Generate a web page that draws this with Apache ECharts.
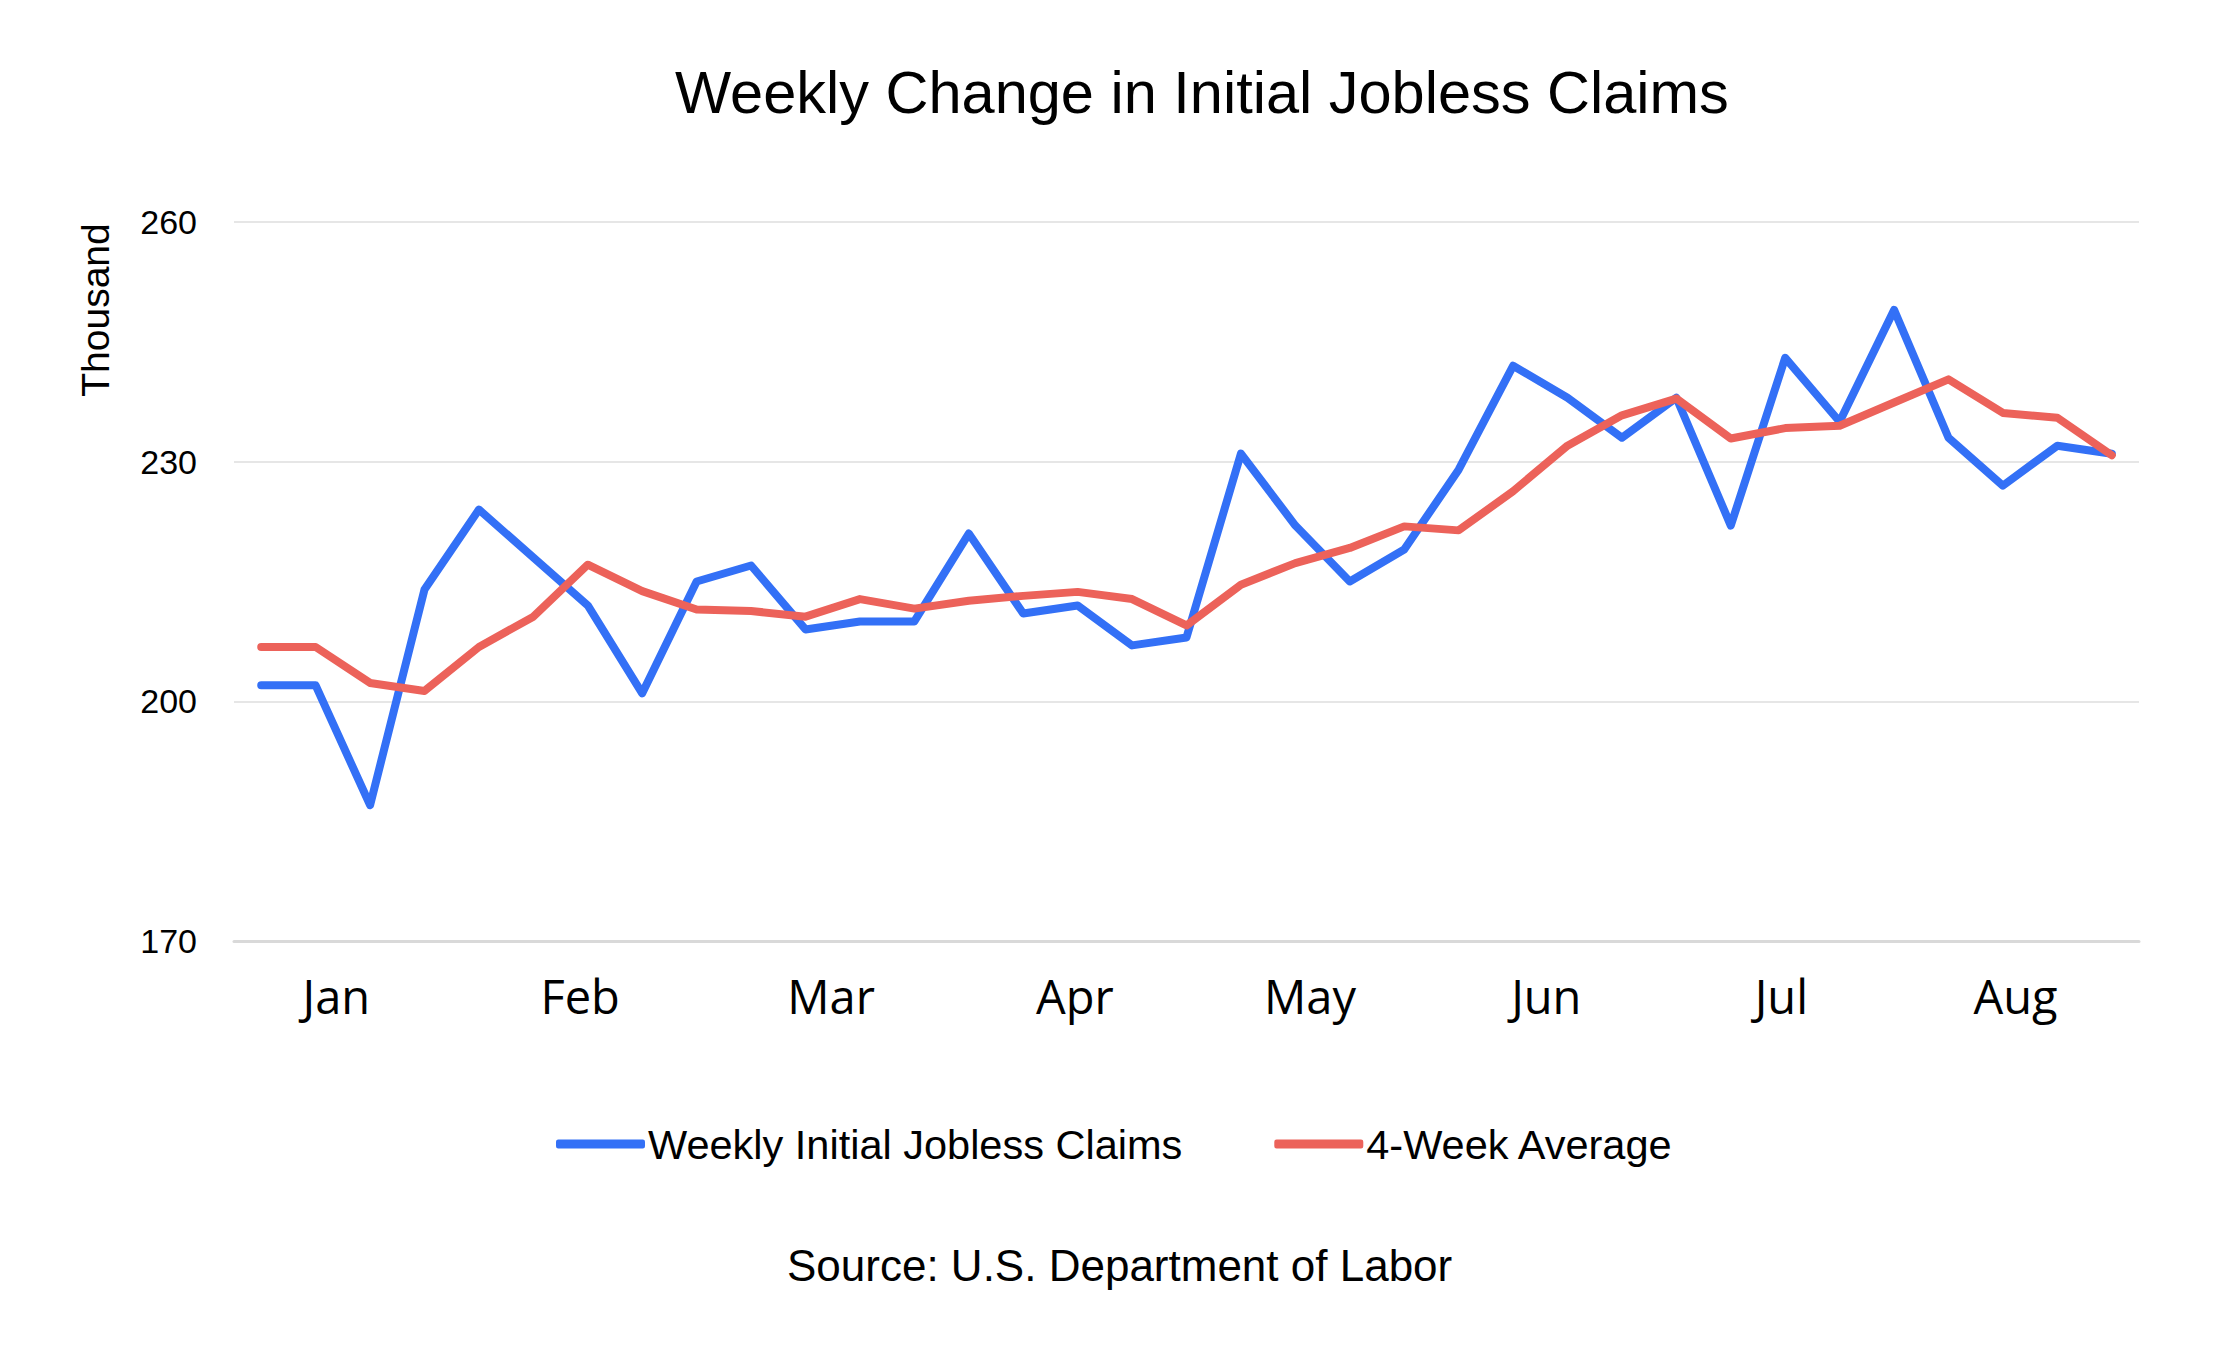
<!DOCTYPE html>
<html>
<head>
<meta charset="utf-8">
<title>Weekly Change in Initial Jobless Claims</title>
<script src="https://cdn.jsdelivr.net/npm/echarts@6/dist/echarts.min.js"></script>
<style>
  html, body { margin: 0; padding: 0; background: #fff; }
  #chart { width: 2238px; height: 1346px; }
</style>
</head>
<body>
<div id="chart"></div>
<script>
// week ending dates (categories)
var weeks = ['2023-12-30','2024-01-06','2024-01-13','2024-01-20','2024-01-27',
    '2024-02-03','2024-02-10','2024-02-17','2024-02-24','2024-03-02','2024-03-09',
    '2024-03-16','2024-03-23','2024-03-30','2024-04-06','2024-04-13','2024-04-20',
    '2024-04-27','2024-05-04','2024-05-11','2024-05-18','2024-05-25','2024-06-01',
    '2024-06-08','2024-06-15','2024-06-22','2024-06-29','2024-07-06','2024-07-13',
    '2024-07-20','2024-07-27','2024-08-03','2024-08-10','2024-08-17','2024-08-24']

// thousands
var claims = [202,202,187,214,224,218,212,201,215,217,209,210,210,221,211,212,207,208,
    231,222,215,219,229,242,238,233,238,222,243,235,249,233,227,232,231]

var avg4 = [206.8,206.8,202.3,201.3,206.8,210.6,217.1,213.8,211.5,211.3,210.6,212.8,
    211.6,212.6,213.2,213.7,212.8,209.5,214.6,217.3,219.2,221.9,221.4,226.3,232.0,
    235.8,237.9,232.9,234.2,234.5,237.4,240.3,236.1,235.5,230.8]

// month tick labels, placed on the week index scale
var monthNames = ['Jan','Feb','Mar','Apr','May','Jun','Jul','Aug']
var monthTicks = [1.38,5.86,10.47,14.95,19.27,23.61,27.93,32.23]

var yTicks = [170,200,230,260]

var chartDom = document.getElementById('chart')
var myChart = echarts.init(chartDom, null, {renderer: 'svg'})

var option = {
    backgroundColor: '#fff',
    animation: false,
    title: [
        {
            text: 'Weekly Change in Initial Jobless Claims',
            left: 670,
            top: 57,
            textStyle: {fontFamily: 'Liberation Sans', fontSize: 59.5, fontWeight: 'normal', color: '#000'}
        },
        {
            text: 'Source: U.S. Department of Labor',
            left: 782,
            top: 1238,
            textStyle: {fontFamily: 'Liberation Sans', fontSize: 44, fontWeight: 'normal', color: '#000'}
        }
    ],
    legend: {
        left: 551,
        top: 1118,
        icon: 'roundRect',
        itemWidth: 89,
        itemHeight: 9,
        itemGap: 92,
        textStyle: {fontFamily: 'Liberation Sans', fontSize: 41.5, color: '#000', padding: [0, 0, 0, -2]},
        data: ['Weekly Initial Jobless Claims', '4-Week Average']
    },
    grid: {left: 234, right: 99, top: 222, bottom: 405},
    xAxis: [
        {
            type: 'category',
            data: weeks,
            boundaryGap: true,
            axisLine: {show: true, lineStyle: {color: '#d9d9d9', width: 3}},
            axisTick: {show: false},
            axisLabel: {show: false}
        },
        {
            type: 'value',
            position: 'bottom',
            min: -0.5,
            max: weeks.length - 0.5,
            axisLine: {show: false},
            axisTick: {show: false},
            splitLine: {show: false},
            axisLabel: {
                show: true,
                customValues: monthTicks,
                margin: 31,
                fontFamily: 'Open Sans',
                fontSize: 47,
                color: '#000',
                formatter: function(v){
                    var i = monthTicks.indexOf(v)
                    return i >= 0 ? monthNames[i] : ''
                }
            }
        }
    ],
    yAxis: {
        type: 'value',
        min: yTicks[0],
        max: yTicks[yTicks.length - 1],
        interval: 30,
        axisLine: {show: false},
        axisTick: {show: false},
        splitLine: {lineStyle: {color: '#e6e6e6', width: 2}},
        axisLabel: {margin: 37, fontFamily: 'Liberation Sans', fontSize: 34, color: '#000'}
    },
    graphic: [
        {
            type: 'text',
            x: 95,
            y: 310,
            rotation: Math.PI / 2,
            style: {
                text: 'Thousand',
                fontFamily: 'Liberation Sans',
                fontSize: 39,
                fill: '#000',
                align: 'center',
                verticalAlign: 'middle'
            }
        }
    ],
    series: [
        {
            name: 'Weekly Initial Jobless Claims',
            type: 'line',
            data: claims,
            symbol: 'none',
            color: '#3370F6',
            lineStyle: {width: 8, color: '#3370F6', cap: 'round', join: 'round'}
        },
        {
            name: '4-Week Average',
            type: 'line',
            data: avg4,
            symbol: 'none',
            color: '#EC625A',
            lineStyle: {width: 8, color: '#EC625A', cap: 'round', join: 'round'}
        }
    ]
}

option && myChart.setOption(option)
</script>
</body>
</html>
